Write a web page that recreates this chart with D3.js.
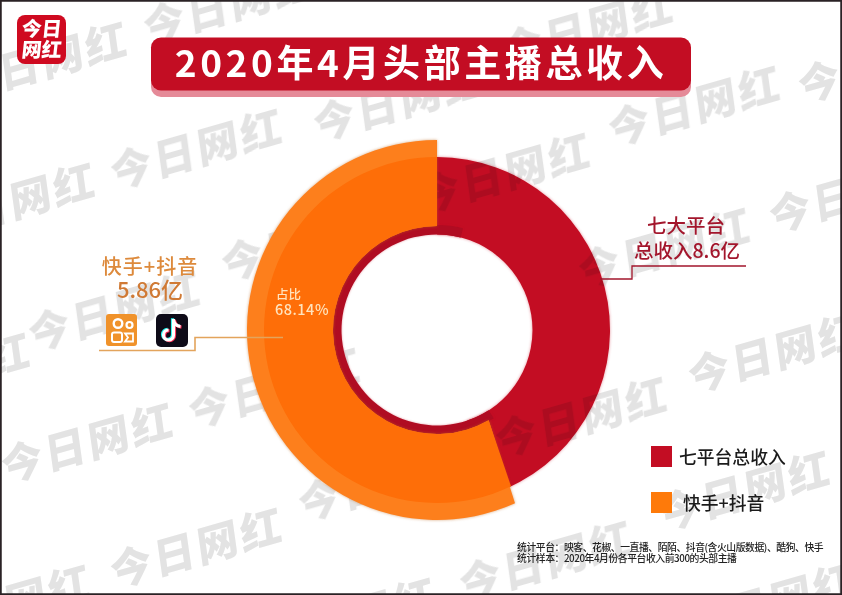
<!DOCTYPE html>
<html>
<head>
<meta charset="utf-8">
<script src="https://cdn.jsdelivr.net/npm/d3@7"></script>
<style>
  html, body { margin: 0; padding: 0; background: #fff; }
  svg { display: block; }
  text { font-family: "Noto Sans CJK SC", sans-serif; }
</style>
</head>
<body>
<script>
const categories = ["七平台总收入", "快手+抖音"];
const incomeLabels = ["总收入8.6亿", "5.86亿"];
const ringShares = [42.5, 57.5];
const shareLabel = "68.14%";
const notes = [
  "统计平台\uFF1A映客、花椒、一直播、陌陌、抖音(含火山版数据)、酷狗、快手",
  "统计样本\uFF1A2020年4月份各平台收入前300的头部主播"
];
const marks = [
  [42, 59], [230, 1], [197, 146], [10, 200], [400, 98], [588, 25], [505, 170], [695, 103], [885, 60],
  [665, 245], [856, 190], [115, 308], [308, 238], [-55, 370], [275, 385], [88, 440], [197, 545], [5, 602],
  [385, 478], [582, 414], [775, 350], [745, 488], [546, 558], [350, 615], [770, 600]
];

const width = 842, height = 595;
const cx = 437, cy = 330;
const RED = "#c30d23", RED_DARK = "#b00c22", ORANGE = "#fe6e08", ORANGE_LIGHT = "#fd7f1c";

const svg = d3.select("body").append("svg").attr("width", width).attr("height", height);
svg.append("rect").attr("width", width).attr("height", height).attr("fill", "#fff");

const pie = d3.pie().sort(null).value(d => d)(ringShares);
const ring = svg.append("g").attr("transform", `translate(${cx},${cy})`);

// red part
ring.append("path")
  .attr("d", d3.arc().innerRadius(95.5).outerRadius(173).startAngle(pie[0].startAngle).endAngle(pie[0].endAngle + 0.15)())
  .attr("fill", RED)
  .style("filter", "drop-shadow(0 0 1.5px rgba(195,13,35,.45))");

// watermark goes over the red but under the orange
const wm = svg.append("g").style("mix-blend-mode", "multiply");
wm.selectAll("text").data(marks).enter().append("text")
  .attr("transform", d => `translate(${d[0]},${d[1]}) rotate(-16) skewX(-8)`)
  .attr("text-anchor", "middle")
  .attr("dominant-baseline", "central")
  .attr("font-size", 42)
  .attr("font-weight", 900)
  .attr("letter-spacing", 3)
  .attr("fill", "#e3e3e3")
  .text("今日网红");

const ringTop = svg.append("g").attr("transform", `translate(${cx},${cy})`);

// thin dark ring under the orange part
ringTop.append("path")
  .attr("d", d3.arc().innerRadius(95.5).outerRadius(105).startAngle(pie[1].startAngle - 0.1).endAngle(pie[1].endAngle + 0.25)())
  .attr("fill", RED_DARK)
  .style("filter", "drop-shadow(0 0 1px rgba(195,13,35,.4))");

// orange cut is not quite radial in the picture, so the end angle leans with the radius
const lean = r => pie[1].startAngle + (r - 147) * 0.00112;
function band(r0, r1) {
  const p = d3.path();
  const a0 = lean(r0) - Math.PI / 2, a1 = lean(r1) - Math.PI / 2, end = pie[1].endAngle - Math.PI / 2;
  p.arc(0, 0, r1, a1, end);
  p.arc(0, 0, r0, end, a0, true);
  p.closePath();
  return p.toString();
}
ringTop.append("path").attr("d", band(104, 190)).attr("fill", ORANGE_LIGHT)
  .style("filter", "drop-shadow(0 0 1.5px rgba(190,110,40,.6))");
ringTop.append("path").attr("d", band(104, 173)).attr("fill", ORANGE);

// title
svg.append("rect").attr("x", 151).attr("y", 44).attr("width", 540).attr("height", 53).attr("rx", 10).attr("fill", "#e58a98");
svg.append("rect").attr("x", 151).attr("y", 37.5).attr("width", 540).attr("height", 53).attr("rx", 10).attr("fill", RED);
svg.append("text").attr("x", 421).attr("y", 77).attr("text-anchor", "middle")
  .attr("font-size", 37).attr("font-weight", 700).attr("letter-spacing", 3.6).attr("fill", "#fff")
  .text("2020年4月头部主播总收入");

// logo
svg.append("rect").attr("x", 17).attr("y", 15).attr("width", 49).attr("height", 49).attr("rx", 8).attr("fill", "#cf0a20");
svg.selectAll(".logo").data(["今日", "网红"]).enter().append("text")
  .attr("class", "logo")
  .attr("transform", (d, i) => `translate(41,${36 + i * 21}) skewX(-6)`)
  .attr("text-anchor", "middle").attr("font-size", 20).attr("font-weight", 900).attr("fill", "#fff")
  .text(d => d);

// right label
const darkRed = "#a3162c";
[["七大平台", 686, 233], [incomeLabels[0], 687, 258]].forEach(d => {
  svg.append("text").attr("x", d[1]).attr("y", d[2]).attr("text-anchor", "middle")
    .attr("font-size", 19.5).attr("font-weight", 500).attr("fill", darkRed).text(d[0]);
});
svg.append("path").attr("d", "M600,279H632V266H746").attr("fill", "none").attr("stroke", darkRed).attr("stroke-width", 1.3);

// left label
svg.append("text").attr("x", 150).attr("y", 274).attr("text-anchor", "middle")
  .attr("font-size", 20).attr("font-weight", 500).attr("letter-spacing", 1).attr("fill", "#dd8a3c").text(categories[1]);
svg.append("text").attr("x", 150).attr("y", 298).attr("text-anchor", "middle")
  .attr("font-size", 22).attr("font-weight", 500).attr("fill", "#d07a35").text(incomeLabels[1]);
svg.append("path").attr("d", "M99,350.5H195V337.5H283").attr("fill", "none").attr("stroke", "#e3a45c").attr("stroke-width", 1.6);

// kuaishou icon
const ks = svg.append("g").attr("transform", "translate(106,314)");
ks.append("rect").attr("width", 31).attr("height", 32).attr("rx", 3).attr("fill", "#f0922a");
ks.append("circle").attr("cx", 12).attr("cy", 9.5).attr("r", 4.3).attr("fill", "none").attr("stroke", "#fff").attr("stroke-width", 2.4);
ks.append("circle").attr("cx", 23.5).attr("cy", 11).attr("r", 3).attr("fill", "none").attr("stroke", "#fff").attr("stroke-width", 2.2);
ks.append("rect").attr("x", 6).attr("y", 18.5).attr("width", 10).attr("height", 9.5).attr("rx", 2).attr("fill", "none").attr("stroke", "#fff").attr("stroke-width", 2);
ks.append("path").attr("d", "M19,19.5H27V27.5H19L22,23.5Z").attr("fill", "none").attr("stroke", "#fff").attr("stroke-width", 1.8);

// tiktok icon
const tt = svg.append("g").attr("transform", "translate(156,314)");
tt.append("rect").attr("width", 32).attr("height", 33).attr("rx", 5).attr("fill", "#0e0b18");
const note = "M17.5,5V21a5,5 0 1 1 -5,-5M17.5,6c.8,3.8 3,6 7,6.5";
[["#25f4ee", -1, -0.7], ["#fe2c55", 1, 0.7], ["#fff", 0, 0]].forEach(d => {
  tt.append("path").attr("d", note).attr("transform", `translate(${d[1]},${d[2]})`)
    .attr("fill", "none").attr("stroke", d[0]).attr("stroke-width", 3.2);
});

// share label on the ring
svg.append("text").attr("x", 276).attr("y", 299).attr("font-size", 12.5).attr("font-weight", 500).attr("fill", "#ffe3bd").text("占比");
svg.append("text").attr("x", 275).attr("y", 315).attr("font-size", 14.5).attr("font-weight", 500).attr("letter-spacing", 0.5).attr("fill", "#ffe3bd").text(shareLabel);

// legend
const legend = svg.selectAll(".legend").data(categories).enter().append("g").attr("class", "legend");
legend.append("rect").attr("x", 651).attr("y", (d, i) => 446 + i * 46).attr("width", 21).attr("height", 21)
  .attr("fill", (d, i) => i ? "#fe7a0a" : RED);
legend.append("text").attr("x", (d, i) => i ? 683 : 679).attr("y", (d, i) => 464 + i * 46)
  .attr("font-size", 17.8).attr("font-weight", 500).attr("fill", "#1b1b1b").text(d => d);

// footnote
svg.selectAll(".note").data(notes).enter().append("text").attr("class", "note")
  .attr("x", 517).attr("y", (d, i) => 551 + i * 11)
  .attr("font-size", 9.8).attr("font-weight", 500).attr("letter-spacing", -0.42).attr("fill", "#222").text(d => d);

// dark edge of the photo
svg.append("rect").attr("x", 0.75).attr("y", 0.75).attr("width", width - 1.5).attr("height", height - 1.5)
  .attr("fill", "none").attr("stroke", "#2a2225").attr("stroke-width", 2);
</script>
</body>
</html>
